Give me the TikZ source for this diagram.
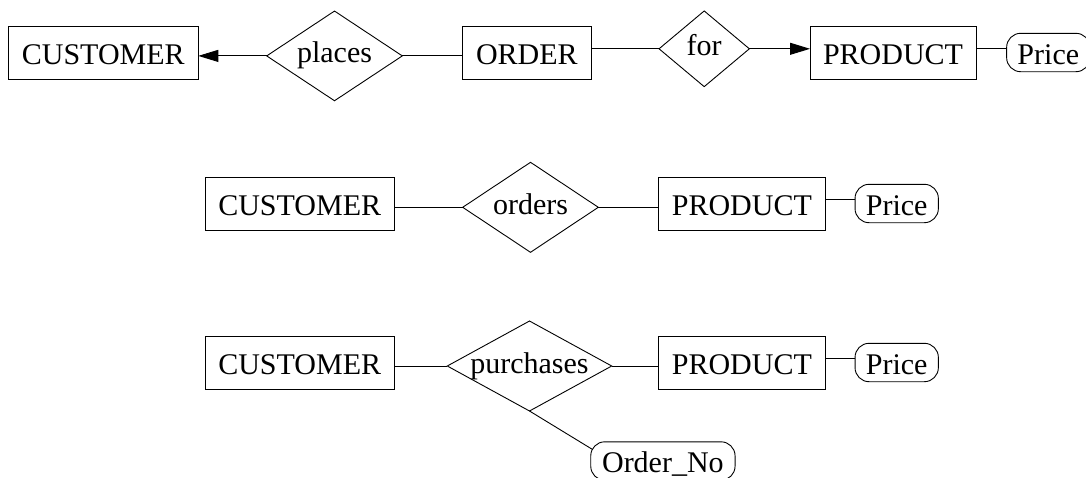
\documentclass[tikz,border=0pt]{standalone}
\usepackage{fontspec}
\setmainfont{Liberation Serif}
\usetikzlibrary{shapes.geometric,arrows.meta}
% relationship names may run past the diamond's edges
\newcommand\reltext[1]{\makebox[0pt]{#1}}
\begin{document}
\begin{tikzpicture}[x=1pt,y=-1pt,
  every node/.style={font=\fontsize{30pt}{36pt}\selectfont, inner sep=0pt, outer sep=0pt},
  entity/.style={draw, line width=0.9pt, rectangle, minimum height=53pt, text height=23pt, text depth=0pt},
  relation/.style={draw, line width=0.9pt, diamond, text height=20pt, text depth=6pt},
  attribute/.style={draw, line width=0.9pt, rectangle, rounded corners=14pt, minimum height=38.4pt, text height=23pt, text depth=0pt},
  link/.style={line width=0.9pt},
  onearrow/.style={link, -{Triangle[length=20pt,width=12pt]}}]
\clip (0,0) rectangle (1086,477);

% CUSTOMER places ORDER for PRODUCT
\node[entity, minimum width=190pt] (cust1) at (103.3,52.5) {CUSTOMER};
\node[relation, minimum width=135.6pt, minimum height=89.7pt] (places) at (334.5,55.9) {\reltext{places}};
\node[entity, minimum width=128.3pt] (order) at (526.9,52.5) {ORDER};
\node[relation, minimum width=90.3pt, minimum height=75.7pt] (for) at (704.2,48.8) {\reltext{for}};
\node[entity, minimum width=166pt] (prod1) at (893,52.5) {PRODUCT};
\node[attribute, minimum width=83.3pt] (price1) at (1048.3,52.5) {Price};

\draw[onearrow] (places.west) -- (places.west -| cust1.east);
\draw[link] (places.east) -- (places.east -| order.west);
\draw[link] (order.east |- for.west) -- (for.west);
\draw[onearrow] (for.east) -- (for.east -| prod1.west);
\draw[link] (prod1.east |- for.east) -- (price1.west |- for.east);

% CUSTOMER orders PRODUCT
\node[entity, minimum width=189.3pt] (cust2) at (299.7,203.7) {CUSTOMER};
\node[relation, minimum width=135.6pt, minimum height=90pt] (orders) at (530.5,207.3) {\reltext{orders}};
\node[entity, minimum width=166.3pt] (prod2) at (741.9,203.7) {PRODUCT};
\node[attribute, minimum width=83.3pt] (price2) at (896.7,203.5) {Price};

\draw[link] (orders.west) -- (orders.west -| cust2.east);
\draw[link] (orders.east) -- (orders.east -| prod2.west);
\draw[link] ([yshift=4.4pt]prod2.east) -- ([yshift=4.2pt]price2.west);

% CUSTOMER purchases PRODUCT, with Order_No
\node[entity, minimum width=189.3pt] (cust3) at (299.7,362.7) {CUSTOMER};
\node[relation, minimum width=164.4pt, minimum height=90pt] (purch) at (529.5,366) {\reltext{purchases}};
\node[entity, minimum width=166.3pt] (prod3) at (741.9,362.7) {PRODUCT};
\node[attribute, minimum width=83.3pt] (price3) at (896.7,362.5) {Price};
\node[attribute, minimum width=144.3pt] (orderno) at (662.9,461) {Order\_No};

\draw[link] (purch.west) -- (purch.west -| cust3.east);
\draw[link] (purch.east) -- (purch.east -| prod3.west);
\draw[link] ([yshift=4.4pt]prod3.east) -- ([yshift=4.2pt]price3.west);
\draw[link] (purch.south) -- ([yshift=11.7pt, xshift=1.5pt]orderno.west);
\end{tikzpicture}
\end{document}
